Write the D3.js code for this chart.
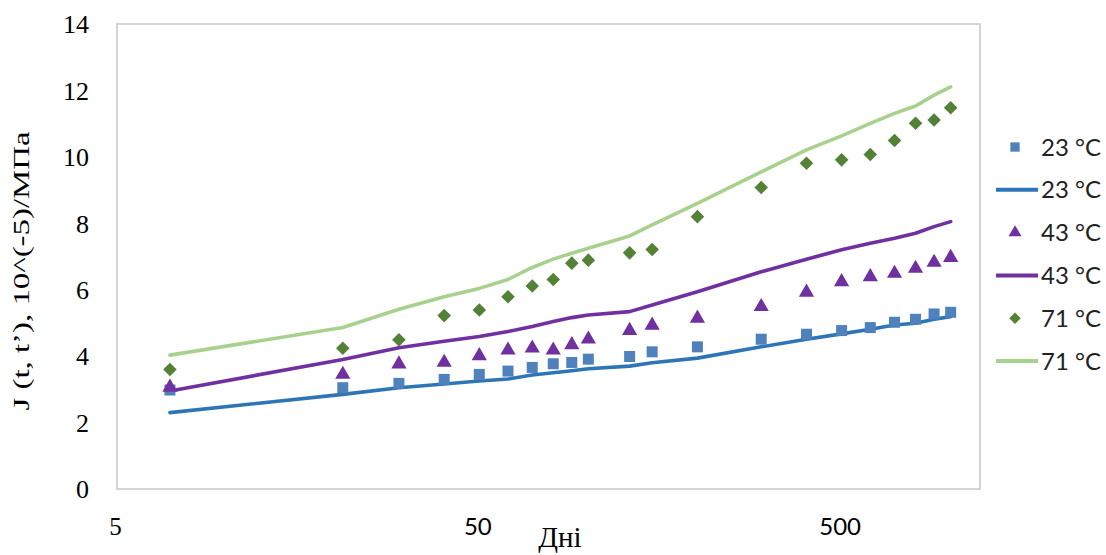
<!DOCTYPE html>
<html>
<head>
<meta charset="utf-8">
<script src="https://cdn.jsdelivr.net/npm/d3@7"></script>
<style>
  html, body { margin: 0; padding: 0; background: #fff; }
  svg { display: block; }
</style>
</head>
<body>
<svg id="chart" width="1106" height="555"></svg>
<script>
// ---- data ----
const days = [7, 21, 30, 40, 50, 60, 70, 80, 90, 100, 130, 150, 200, 300, 400, 500, 600, 700, 800, 900, 1000];

const exp23 = [2.98, 3.05, 3.18, 3.30, 3.45, 3.55, 3.66, 3.77, 3.81, 3.91, 3.99, 4.13, 4.28, 4.51, 4.66, 4.77, 4.86, 5.02, 5.11, 5.27, 5.32];
const exp43 = [3.06, 3.45, 3.76, 3.81, 4.01, 4.18, 4.24, 4.18, 4.34, 4.51, 4.77, 4.93, 5.14, 5.49, 5.92, 6.24, 6.39, 6.49, 6.64, 6.82, 6.97];
const exp71 = [3.60, 4.24, 4.49, 5.22, 5.39, 5.79, 6.11, 6.31, 6.80, 6.89, 7.11, 7.21, 8.20, 9.08, 9.81, 9.91, 10.07, 10.49, 11.01, 11.11, 11.48];

const mod23 = [2.30, 2.85, 3.05, 3.16, 3.25, 3.31, 3.43, 3.50, 3.56, 3.62, 3.70, 3.80, 3.94, 4.28, 4.51, 4.67, 4.81, 4.94, 4.99, 5.11, 5.19];
const mod43 = [2.95, 3.90, 4.25, 4.45, 4.59, 4.74, 4.89, 5.04, 5.16, 5.24, 5.34, 5.54, 5.94, 6.54, 6.92, 7.20, 7.40, 7.55, 7.70, 7.90, 8.05];
const mod71 = [4.03, 4.86, 5.41, 5.79, 6.04, 6.31, 6.67, 6.92, 7.10, 7.25, 7.62, 7.95, 8.60, 9.55, 10.21, 10.63, 11.01, 11.31, 11.53, 11.86, 12.11];

const xTicks = [5, 50, 500];
const yTicks = [0, 2, 4, 6, 8, 10, 12, 14];
const legendLabels = ["23 °C", "23 °C", "43 °C", "43 °C", "71 °C", "71 °C"];
const xTitle = "Дні";
const yTitle = "J (t, t’), 10^(-5)/МПа";

// ---- layout ----
const svg = d3.select("#chart");
const pL = 117, pR = 980, pT = 24, pB = 489;

const x = d3.scaleLog().domain([5, 1205]).range([pL, pR]);
const y = d3.scaleLinear().domain([0, 14]).range([pB, pT]);

// plot border
svg.append("rect")
  .attr("x", pL).attr("y", pT)
  .attr("width", pR - pL).attr("height", pB - pT)
  .attr("fill", "none").attr("stroke", "#C6C6C6").attr("stroke-width", 1.5);

// y axis
const yAxis = svg.append("g")
  .attr("transform", `translate(${pL},0)`)
  .call(d3.axisLeft(y).tickValues(yTicks).tickSize(0).tickPadding(28).tickFormat(d3.format("d")));
yAxis.select(".domain").remove();
yAxis.selectAll("text")
  .attr("font-family", "'Liberation Serif', 'Times New Roman', serif")
  .attr("font-size", 26)
  .attr("fill", "#000")
  .attr("dy", "0.34em");

// x axis
const xAxis = svg.append("g")
  .attr("transform", `translate(0,${pB})`)
  .call(d3.axisBottom(x).tickValues(xTicks).tickSize(0).tickPadding(0).tickFormat(d3.format("d")));
xAxis.select(".domain").remove();
xAxis.selectAll("text")
  .attr("y", 46)
  .attr("dy", null)
  .attr("fill", "#000")
  .attr("font-size", (d, i) => i === 0 ? 25 : 24)
  .attr("font-family", (d, i) => i === 0 ? "'Liberation Serif', 'Times New Roman', serif" : "Lato, 'Open Sans', sans-serif")
  .attr("transform", "translate(-2,0)");

// axis titles
svg.append("text")
  .attr("x", 560).attr("y", 547)
  .attr("text-anchor", "middle")
  .attr("font-family", "'Liberation Serif', 'Times New Roman', serif")
  .attr("font-size", 29)
  .attr("fill", "#000")
  .text(xTitle);

svg.append("text")
  .attr("transform", "translate(29,271) rotate(-90)")
  .attr("text-anchor", "middle")
  .attr("font-family", "'Liberation Serif', 'Times New Roman', serif")
  .attr("font-size", 23)
  .attr("textLength", 279)
  .attr("lengthAdjust", "spacingAndGlyphs")
  .attr("fill", "#000")
  .text(yTitle);

// ---- series ----
const sqSym = d3.symbol().type(d3.symbolSquare).size(121);
const triSym = d3.symbol().type(d3.symbolTriangle).size(100);
const diaSym = d3.symbol().type(d3.symbolSquare).size(92);

const series = [
  { kind: "pts", vals: exp23, color: "#4F81BD", sym: sqSym, rot: 0 },
  { kind: "line", vals: mod23, color: "#2E75B6" },
  { kind: "pts", vals: exp43, color: "#7030A0", sym: triSym, rot: 0 },
  { kind: "line", vals: mod43, color: "#7030A0" },
  { kind: "pts", vals: exp71, color: "#538135", sym: diaSym, rot: 45 },
  { kind: "line", vals: mod71, color: "#A9D18E" }
];

const line = d3.line().x((d, i) => x(days[i])).y(d => y(d));

series.filter(s => s.kind === "line").forEach(s => {
  svg.append("path")
    .datum(s.vals)
    .attr("d", line)
    .attr("fill", "none")
    .attr("stroke", s.color)
    .attr("stroke-width", 3.6)
    .attr("stroke-linejoin", "round")
    .attr("stroke-linecap", "round");
});
series.filter(s => s.kind === "pts").forEach(s => {
  svg.append("g").selectAll("path")
    .data(s.vals)
    .join("path")
    .attr("d", s.sym)
    .attr("transform", (d, i) => `translate(${x(days[i])},${y(d)}) rotate(${s.rot})`)
    .attr("fill", s.color);
});

// ---- legend ----
const legY0 = 147, legStep = 42.8;
const leg = svg.append("g");
series.forEach((s, i) => {
  const cy = legY0 + i * legStep;
  if (s.kind === "pts") {
    leg.append("path")
      .attr("d", s.sym)
      .attr("transform", `translate(1015,${cy}) rotate(${s.rot}) scale(0.85)`)
      .attr("fill", s.color);
  } else {
    leg.append("line")
      .attr("x1", 996).attr("x2", 1038)
      .attr("y1", cy).attr("y2", cy)
      .attr("stroke", s.color).attr("stroke-width", 4);
  }
  leg.append("text")
    .attr("x", 1041).attr("y", cy)
    .attr("dy", "0.36em")
    .attr("font-family", "Lato, 'Open Sans', sans-serif")
    .attr("font-size", 24)
    .attr("fill", "#222")
    .text(legendLabels[i]);
});
</script>
</body>
</html>
